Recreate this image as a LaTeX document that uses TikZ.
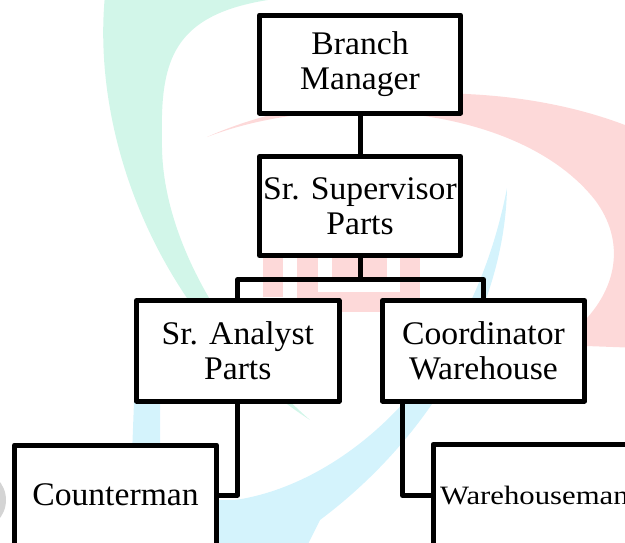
\documentclass[tikz,border=0pt]{standalone}
\usepackage{fontspec}
\setmainfont{Liberation Serif}[FakeStretch=1.02]
\newfontfamily\wideserif{Liberation Serif}[FakeStretch=1.16]
\definecolor{wmgreen}{HTML}{D2F6E9}
\definecolor{wmpink}{HTML}{FDD9D9}
\definecolor{wmcyan}{HTML}{D4F3FC}
\definecolor{wmgray}{HTML}{D4D4D4}
\begin{document}
\begin{tikzpicture}[x=1pt,y=-1pt,
  box/.style={draw=black, fill=white, line width=5pt, line join=round, rectangle,
    inner sep=0pt, outer sep=0pt, align=center, font=\fontsize{33}{34.5}\selectfont},
  link/.style={draw=black, line width=5pt, line join=round}]
\useasboundingbox (0,0) rectangle (625,542);
\clip (0,0) rectangle (625,542);
% watermark
\fill[wmgreen] (105,-5) .. controls (90,150) and (170,330) .. (310,420)
  .. controls (230,350) and (160,240) .. (162,140)
  .. controls (160,50) and (175,0) .. (325,-5) -- cycle;
\fill[wmpink] (207,137) .. controls (300,95) and (480,70) .. (625,125)
  -- (640,130) -- (640,348) -- (586,346) -- (560,340) -- (575,330)
  .. controls (620,290) and (625,240) .. (595,200)
  .. controls (520,105) and (330,90) .. (207,137) -- cycle;
\fill[wmcyan] (507,188) .. controls (505,300) and (440,430) .. (320,520)
  -- (300,560) -- (128,560) -- (134,402) -- (150,385) -- (160,385)
  -- (160,450) .. controls (165,490) and (190,502) .. (235,500)
  .. controls (340,485) and (470,380) .. (507,188) -- cycle;
\fill[wmpink] (263,257) rectangle (283,297);
\fill[wmpink] (297,257) rectangle (318,312);
\fill[wmpink] (332,257) rectangle (387,282);
\fill[wmpink] (400,257) rectangle (420,312);
\fill[wmpink] (318,292) rectangle (400,312);
\fill[wmgray] (-24,500) circle (30pt);
% boxes
\node[box, minimum width=201pt, minimum height=98pt] (bm) at (360,64) {Branch\\Manager};
\node[box, minimum width=201pt, minimum height=99pt] (ss) at (360,206) {Sr. Supervisor\\Parts};
\node[box, minimum width=202.5pt, minimum height=100.5pt] (sa) at (237.75,350.75) {Sr. Analyst\\Parts};
\node[box, minimum width=202pt, minimum height=100.5pt] (co) at (483.5,350.75) {Coordinator\\Warehouse};
\node[box, minimum width=202pt, minimum height=100pt] (cm) at (115.5,495) {Counterman};
\node[box, minimum height=102pt, text width=200pt, inner xsep=7pt, align=left,
  font=\wideserif\fontsize{26.5}{30}\selectfont] (wh) at (540,495.5) {Warehouseman};
% connectors
\draw[link] (bm.south) -- (ss.north);
\draw[link] (ss.south) -- ++(0,24) coordinate (bus);
\draw[link] (sa.north) |- (bus) -| (co.north);
\draw[link] (sa.south) |- (cm.east);
\draw[link] ([xshift=-81pt]co.south) |- (wh.west);
\end{tikzpicture}
\end{document}
